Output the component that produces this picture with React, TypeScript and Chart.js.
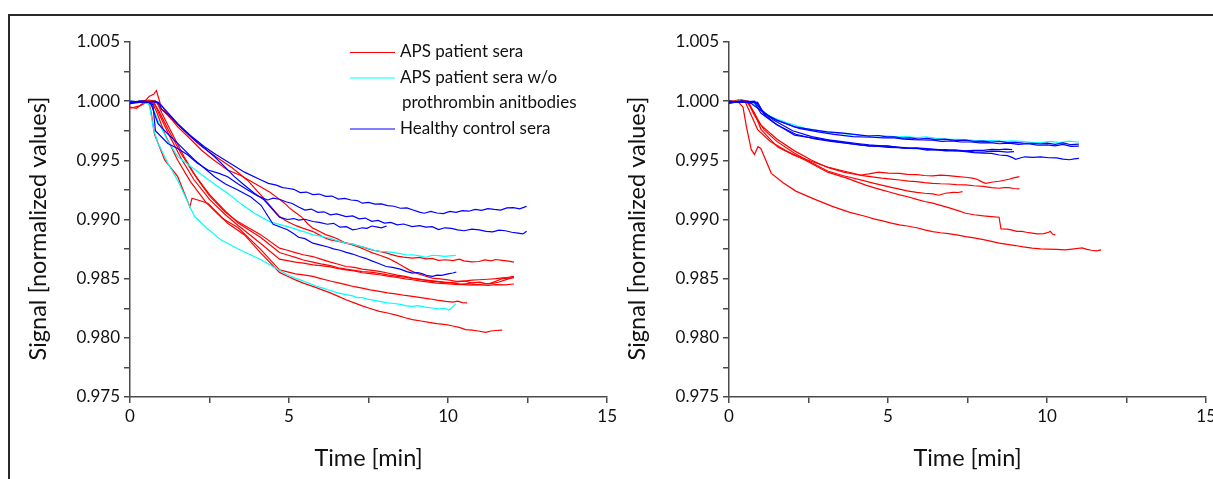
import React, { useEffect, useRef } from 'react';
import { Chart, registerables } from 'chart.js';

Chart.register(...registerables);

type Pt = [number, number];

// ---------- axis ticks ----------
const xMajorTicks = [0, 5, 10, 15];
const yMajorTicks = [0.975, 0.98, 0.985, 0.99, 0.995, 1.0, 1.005];

// ---------- colours ----------
const RED = '#ff0000';
const CYAN = '#00ffff';
const BLUE = '#0000ff';

// ---------- LEFT PANEL ----------
// Healthy control sera
const leftHealthy1: Pt[] = [[0,1.0000],[0.4,0.9999],[0.8,1.0000],[1.0,0.9996],[1.5,0.9981],[1.9,0.9971],[2.34,0.99615],[2.7,0.9955],[3.07,0.99488],[3.6,0.9940],[4.12,0.99334],[4.35,0.99305],[4.6,0.9929],[4.8,0.9927],[4.95,0.99264],[5.15,0.99255],[5.35,0.99228],[5.55,0.99232],[5.75,0.9921],[5.95,0.99215],[6.15,0.99195],[6.35,0.99198],[6.55,0.99172],[6.75,0.99178],[6.95,0.99165],[7.15,0.9916],[7.3,0.99138],[7.5,0.99145],[7.7,0.9913],[7.9,0.99132],[8.1,0.99118],[8.3,0.99112],[8.5,0.99095],[8.7,0.99098],[8.9,0.9908],[9.1,0.99062],[9.25,0.99053],[9.45,0.99068],[9.65,0.99055],[9.85,0.9905],[10.05,0.99068],[10.25,0.9906],[10.45,0.99075],[10.65,0.9907],[10.85,0.99085],[11.05,0.99078],[11.25,0.99092],[11.45,0.99085],[11.65,0.9908],[11.85,0.99098],[12.05,0.991],[12.25,0.9909],[12.4,0.99105],[12.47,0.99112]];
const leftHealthy2: Pt[] = [[0,0.9998],[0.3,0.9999],[0.6,0.9999],[0.72,0.9997],[0.8,0.9975],[1.19,0.99643],[1.5,0.996],[1.82,0.99545],[2.1,0.9948],[2.45,0.99418],[2.8,0.9939],[3.07,0.99362],[3.4,0.993],[3.7,0.9925],[4.0,0.992],[4.33,0.99165],[4.5,0.9918],[4.7,0.99171],[4.9,0.9915],[5.1,0.99135],[5.3,0.99105],[5.5,0.9908],[5.7,0.99088],[5.9,0.9906],[6.1,0.99065],[6.3,0.9904],[6.5,0.99048],[6.79,0.99025],[7.0,0.9903],[7.2,0.99005],[7.4,0.99012],[7.6,0.98985],[7.8,0.98992],[8.0,0.9897],[8.2,0.98975],[8.4,0.98955],[8.6,0.98962],[8.87,0.9894],[9.1,0.98948],[9.3,0.98935],[9.5,0.9894],[9.7,0.98915],[9.9,0.9893],[10.1,0.98925],[10.3,0.98912],[10.5,0.98905],[10.75,0.98918],[10.97,0.98912],[11.2,0.989],[11.4,0.98895],[11.6,0.9891],[11.8,0.98905],[12.0,0.98892],[12.2,0.98885],[12.35,0.98878],[12.47,0.989]];
const leftHealthy3: Pt[] = [[0,0.9999],[0.4,1.0000],[0.9,0.9999],[1.0,0.9993],[1.28,0.99868],[1.6,0.9978],[2.03,0.99671],[2.35,0.996],[2.66,0.9953],[3.0,0.9944],[3.28,0.99362],[3.6,0.9929],[3.91,0.99222],[4.2,0.9917],[4.45,0.99095],[4.7,0.9902],[4.95,0.99],[5.15,0.99008],[5.3,0.98995],[5.5,0.99002],[5.75,0.98983],[5.95,0.98975],[6.2,0.9896],[6.4,0.98968],[6.6,0.98935],[6.8,0.9894],[7.0,0.98913],[7.15,0.9892],[7.3,0.9893],[7.45,0.98925],[7.6,0.98945],[7.75,0.98938],[7.9,0.9893],[8.07,0.98945]];
const leftHealthy4: Pt[] = [[0,0.9998],[0.3,1.0000],[0.6,0.9999],[0.67,0.9997],[0.88,0.9981],[1.2,0.9972],[1.5,0.99643],[2.03,0.99503],[2.66,0.99362],[3.0,0.993],[3.39,0.9925],[3.8,0.9919],[4.12,0.9912],[4.5,0.9896],[4.95,0.98913],[5.15,0.9888],[5.3,0.9885],[5.5,0.98838],[5.75,0.988],[5.96,0.98786],[6.2,0.9877],[6.4,0.98752],[6.6,0.9874],[6.8,0.98722],[7.0,0.98708],[7.21,0.98687],[7.4,0.98672],[7.6,0.9865],[7.8,0.9863],[8.05,0.98603],[8.25,0.98595],[8.5,0.9858],[8.7,0.9856],[8.88,0.98547],[9.05,0.98552],[9.2,0.9854],[9.35,0.98525],[9.51,0.98519],[9.65,0.9853],[9.8,0.98528],[10.0,0.9854],[10.15,0.98548],[10.26,0.98556]];
// APS patient sera w/o prothrombin antibodies
const leftNoPT1: Pt[] = [[0,1.0000],[0.4,0.9999],[0.68,0.9997],[0.9,0.9982],[1.2,0.9966],[1.5,0.99531],[1.9,0.9945],[2.34,0.99362],[2.7,0.9929],[3.07,0.99222],[3.5,0.9913],[3.91,0.99053],[4.4,0.9898],[4.95,0.9894],[5.15,0.98925],[5.3,0.9891],[5.5,0.98895],[5.75,0.9887],[5.95,0.98862],[6.15,0.9885],[6.3,0.9884],[6.5,0.98822],[6.79,0.988],[7.0,0.98792],[7.15,0.98778],[7.3,0.9877],[7.5,0.98755],[7.65,0.98742],[7.84,0.9873],[8.05,0.98728],[8.3,0.9872],[8.5,0.98712],[8.7,0.987],[8.88,0.98702],[9.1,0.98692],[9.3,0.9868],[9.5,0.98698],[9.7,0.98695],[9.9,0.98688],[10.05,0.98692],[10.24,0.98697]];
const leftNoPT2: Pt[] = [[0,0.9999],[0.3,1.0000],[0.55,0.9999],[0.62,0.9995],[0.75,0.9975],[0.88,0.99646],[1.19,0.99475],[1.5,0.9933],[2.03,0.99025],[2.4,0.9893],[2.86,0.98828],[3.4,0.9875],[4.12,0.9866],[4.5,0.986],[4.95,0.98533],[5.15,0.9851],[5.35,0.9849],[5.55,0.9847],[5.75,0.98449],[5.95,0.98428],[6.1,0.98418],[6.3,0.984],[6.5,0.98382],[6.79,0.98365],[7.0,0.98355],[7.15,0.9834],[7.3,0.9834],[7.5,0.98325],[7.65,0.98318],[7.84,0.98308],[8.05,0.98298],[8.3,0.9829],[8.5,0.98282],[8.7,0.9827],[8.88,0.98266],[9.05,0.98272],[9.3,0.9826],[9.5,0.98252],[9.72,0.98244],[9.9,0.9825],[10.03,0.98235],[10.15,0.98262],[10.24,0.98289]];
// APS patient sera
const leftAps1: Pt[] = [[0,0.9995],[0.2,0.9994],[0.4,0.9998],[0.6,1.0004],[0.75,1.0006],[0.83,1.0009],[0.95,0.9998],[1.2,0.9988],[1.5,0.99783],[1.9,0.9968],[2.24,0.99587],[2.6,0.9951],[3.07,0.99418],[3.5,0.9937],[3.91,0.99306],[4.4,0.9923],[4.7,0.9917],[4.85,0.9914],[5.0,0.991],[5.2,0.9906],[5.4,0.9902],[5.6,0.9896],[5.75,0.98927],[5.95,0.989],[6.15,0.98872],[6.3,0.9886],[6.5,0.9884],[6.79,0.988],[7.0,0.98792],[7.15,0.98778],[7.3,0.9877],[7.5,0.98752],[7.65,0.9874],[7.84,0.9873],[8.05,0.98718],[8.2,0.98705],[8.4,0.9869],[8.6,0.98682],[8.88,0.98674],[9.1,0.9868],[9.3,0.98668],[9.5,0.98672],[9.7,0.98655],[9.93,0.9866],[10.15,0.98652],[10.35,0.98665],[10.5,0.9865],[10.75,0.98642],[10.97,0.98645],[11.15,0.98658],[11.35,0.9865],[11.5,0.98662],[11.7,0.98655],[11.9,0.98648],[12.07,0.9864]];
const leftAps2: Pt[] = [[0,0.9998],[0.3,1.0000],[0.6,1.0001],[0.8,1.0000],[1.0,0.9993],[1.3,0.9985],[1.7,0.9975],[2.2,0.9963],[2.7,0.9953],[3.2,0.9944],[3.7,0.9933],[4.2,0.9918],[4.7,0.99025],[4.9,0.9899],[5.2,0.9895],[5.45,0.98925],[5.75,0.98898],[5.95,0.9887],[6.15,0.98842],[6.3,0.98828],[6.55,0.98815],[6.8,0.988],[7.0,0.98785],[7.2,0.98767],[7.4,0.98745],[7.6,0.9872],[7.85,0.98698],[8.1,0.98674],[8.35,0.9864],[8.6,0.986],[8.8,0.9857],[9.0,0.98547],[9.25,0.98525],[9.5,0.98505],[9.75,0.98498],[10.0,0.9849],[10.25,0.98478],[10.5,0.9848],[10.75,0.98465],[11.0,0.9847],[11.15,0.9846],[11.3,0.98458],[11.5,0.98478],[11.7,0.985],[11.9,0.98505],[12.07,0.9851]];
const leftAps3: Pt[] = [[0,0.9994],[0.3,0.9996],[0.6,1.0000],[0.85,0.9999],[1.0,0.999],[1.3,0.9974],[1.7,0.9953],[2.1,0.9935],[2.5,0.992],[3.0,0.9906],[3.4,0.9898],[4.12,0.9887],[4.7,0.98758],[4.95,0.9874],[5.2,0.9872],[5.45,0.98702],[5.75,0.98687],[6.0,0.98665],[6.3,0.9864],[6.55,0.98622],[6.79,0.98603],[7.05,0.98595],[7.3,0.9858],[7.55,0.98572],[7.84,0.98561],[8.1,0.98548],[8.4,0.9853],[8.65,0.9852],[8.88,0.98505],[9.15,0.98495],[9.4,0.9848],[9.65,0.98475],[9.93,0.98463],[10.2,0.9847],[10.5,0.9848],[10.75,0.98488],[10.97,0.98491],[11.25,0.98495],[11.5,0.985],[11.8,0.98508],[12.07,0.98519]];
const leftAps4: Pt[] = [[0,0.9999],[0.4,1.0000],[0.7,1.0000],[0.9,0.9992],[1.2,0.9976],[1.6,0.9956],[2.0,0.9939],[2.5,0.9921],[3.0,0.9907],[3.4,0.9897],[4.1,0.9885],[4.7,0.98721],[4.95,0.987],[5.2,0.9868],[5.45,0.98658],[5.75,0.9864],[6.0,0.98625],[6.3,0.9861],[6.55,0.98592],[6.8,0.9858],[7.05,0.9857],[7.3,0.9856],[7.55,0.98555],[7.84,0.98545],[8.1,0.98532],[8.4,0.9852],[8.65,0.98512],[8.9,0.985],[9.15,0.98492],[9.4,0.98485],[9.65,0.98478],[9.9,0.9847],[10.15,0.98462],[10.4,0.98455],[10.65,0.98458],[10.9,0.9845],[11.15,0.98455],[11.4,0.9846],[11.6,0.98472],[11.8,0.9849],[11.95,0.98502],[12.07,0.9851]];
const leftAps5: Pt[] = [[0,0.9999],[0.4,0.9999],[0.75,1.0000],[0.9,0.999],[1.2,0.9973],[1.6,0.9952],[2.0,0.9934],[2.5,0.9917],[3.0,0.9904],[3.4,0.9895],[4.1,0.988],[4.7,0.98665],[4.95,0.98652],[5.2,0.9864],[5.45,0.98632],[5.75,0.98617],[6.0,0.9861],[6.3,0.986],[6.55,0.98585],[6.79,0.98575],[7.05,0.98565],[7.3,0.9855],[7.55,0.98542],[7.84,0.98533],[8.1,0.98522],[8.4,0.9851],[8.65,0.98498],[8.88,0.98491],[9.15,0.9848],[9.4,0.9847],[9.65,0.98462],[9.93,0.98457],[10.2,0.98452],[10.5,0.9845],[10.75,0.98445],[10.97,0.98449],[11.25,0.98444],[11.5,0.9845],[11.8,0.98448],[12.07,0.98455]];
const leftAps6: Pt[] = [[0,1.0000],[0.4,0.9999],[0.7,0.9999],[0.85,0.999],[1.1,0.9972],[1.5,0.995],[1.9,0.9932],[2.4,0.9914],[2.9,0.9901],[3.4,0.9893],[4.1,0.9875],[4.7,0.98575],[4.95,0.98558],[5.2,0.9854],[5.45,0.98532],[5.75,0.98519],[6.0,0.985],[6.3,0.9848],[6.55,0.98465],[6.79,0.98449],[7.05,0.98432],[7.3,0.9842],[7.55,0.98405],[7.84,0.98392],[8.1,0.9838],[8.4,0.9837],[8.65,0.98358],[8.88,0.9835],[9.15,0.9834],[9.4,0.9833],[9.65,0.98318],[9.93,0.98308],[10.15,0.98302],[10.3,0.9831],[10.45,0.98298],[10.6,0.98295]];
const leftAps7: Pt[] = [[0,0.9999],[0.3,1.0000],[0.6,0.9999],[0.67,0.999],[0.77,0.9972],[1.09,0.99503],[1.5,0.99362],[1.88,0.99109],[1.95,0.9918],[2.45,0.99137],[3.07,0.98969],[3.6,0.9887],[4.1,0.9872],[4.7,0.98553],[4.95,0.9852],[5.2,0.9849],[5.45,0.98462],[5.75,0.98435],[6.0,0.9841],[6.3,0.9838],[6.55,0.9835],[6.79,0.98322],[7.05,0.98295],[7.3,0.9827],[7.55,0.98248],[7.84,0.98224],[8.1,0.9821],[8.4,0.9819],[8.65,0.9817],[8.88,0.98154],[9.15,0.98142],[9.4,0.9813],[9.65,0.9812],[9.93,0.98112],[10.15,0.981],[10.35,0.98088],[10.55,0.9807],[10.75,0.98065],[10.95,0.98058],[11.18,0.98047],[11.35,0.98058],[11.5,0.98062],[11.7,0.98065]];

// ---------- RIGHT PANEL ----------
const rightHealthy1: Pt[] = [[0,1.0000],[0.3,0.9999],[0.6,1.0000],[0.9,0.9998],[1.1,0.999],[1.5,0.9984],[2.06,0.99783],[2.6,0.9976],[3.1,0.99741],[3.6,0.9973],[4.14,0.99713],[4.4,0.99705],[4.7,0.9971],[4.95,0.99698],[5.19,0.99699],[5.45,0.99688],[5.7,0.9969],[5.95,0.9968],[6.23,0.99685],[6.5,0.99675],[6.8,0.9968],[7.1,0.99668],[7.44,0.99671],[7.7,0.9966],[8.0,0.99662],[8.25,0.99655],[8.5,0.9966],[8.75,0.9965],[9.0,0.99652],[9.25,0.99645],[9.53,0.99643],[9.8,0.9964],[10.0,0.99645],[10.25,0.99635],[10.5,0.99648],[10.75,0.99632],[11.0,0.99637]];
const rightHealthy2: Pt[] = [[0,0.9999],[0.4,1.0000],[0.7,0.9998],[1.0,0.9992],[1.3,0.9986],[1.7,0.9982],[2.2,0.9977],[2.8,0.9974],[3.3,0.9972],[3.9,0.997],[4.5,0.99695],[4.85,0.9969],[5.2,0.9969],[5.5,0.9968],[5.8,0.99675],[6.1,0.99672],[6.4,0.9967],[6.7,0.9966],[7.0,0.99665],[7.3,0.99655],[7.6,0.99655],[7.9,0.99648],[8.2,0.9965],[8.5,0.9964],[8.8,0.99645],[9.1,0.99635],[9.4,0.9964],[9.7,0.99628],[10.0,0.9963],[10.25,0.99622],[10.5,0.99635],[10.75,0.99618],[11.0,0.9962]];
const rightHealthy3: Pt[] = [[0,1.0000],[0.4,0.9999],[0.8,0.9999],[1.0,0.999],[1.4,0.9982],[2.06,0.99713],[2.6,0.9969],[3.1,0.99671],[3.6,0.9965],[4.14,0.99629],[4.4,0.99625],[4.7,0.9962],[4.95,0.99622],[5.19,0.99615],[5.45,0.99605],[5.7,0.996],[5.95,0.99598],[6.23,0.99587],[6.5,0.9959],[6.8,0.9958],[7.1,0.99582],[7.44,0.99573],[7.7,0.99565],[8.0,0.9956],[8.25,0.99558],[8.5,0.99545],[8.75,0.9954],[8.9,0.99525],[9.01,0.99508],[9.15,0.9952],[9.3,0.9953],[9.55,0.99525],[9.8,0.9953],[10.05,0.99522],[10.3,0.9952],[10.5,0.9951],[10.7,0.99505],[10.85,0.99512],[11.0,0.99517]];
const rightHealthy4: Pt[] = [[0,0.9998],[0.4,1.0000],[0.9,0.9999],[1.1,0.9989],[1.5,0.998],[2.1,0.9972],[2.7,0.9968],[3.2,0.9966],[3.8,0.9964],[4.1,0.99632],[4.4,0.9962],[4.7,0.99618],[5.0,0.9961],[5.3,0.99608],[5.6,0.996],[5.9,0.99602],[6.2,0.99595],[6.5,0.99588],[6.8,0.9959],[7.1,0.99582],[7.4,0.9958],[7.7,0.99572],[8.0,0.9957],[8.25,0.99578],[8.5,0.99575],[8.75,0.9957],[8.96,0.99573]];
const rightHealthy5: Pt[] = [[0,0.9999],[0.3,0.9999],[0.8,1.0000],[1.0,0.9993],[1.4,0.9984],[2.0,0.9975],[2.6,0.997],[3.2,0.9967],[3.8,0.9965],[4.1,0.9964],[4.4,0.9963],[4.7,0.99625],[5.0,0.9962],[5.3,0.99612],[5.6,0.99605],[5.9,0.99606],[6.2,0.996],[6.5,0.99592],[6.8,0.99585],[7.1,0.99588],[7.4,0.9958],[7.7,0.99585],[8.0,0.99585],[8.25,0.99592],[8.5,0.9959],[8.7,0.99595],[8.9,0.9959]];
const rightNoPT1: Pt[] = [[0,0.9999],[0.3,1.0000],[0.7,0.9999],[1.0,0.9993],[1.3,0.9987],[1.8,0.9982],[2.4,0.9977],[3.0,0.9974],[3.5,0.99727],[4.2,0.9971],[4.6,0.99708],[5.0,0.99705],[5.3,0.99698],[5.6,0.997],[5.9,0.99692],[6.2,0.99699],[6.5,0.99685],[6.8,0.9968],[7.1,0.99678],[7.4,0.99675],[7.7,0.99668],[8.0,0.99665],[8.3,0.99668],[8.6,0.9966],[8.9,0.99665],[9.2,0.9966],[9.5,0.99652],[9.8,0.9965],[10.1,0.9966],[10.4,0.9965],[10.7,0.99662],[11.0,0.99655]];
const rightAps1: Pt[] = [[0,0.9999],[0.3,1.0001],[0.5,1.0000],[0.6,0.9998],[0.8,0.999],[1.01,0.9976],[1.53,0.99612],[2.06,0.99542],[2.6,0.9949],[3.1,0.99444],[3.6,0.9941],[4.14,0.99376],[4.4,0.99385],[4.7,0.994],[5.0,0.99392],[5.36,0.9939],[5.6,0.99382],[5.9,0.9938],[6.15,0.99372],[6.4,0.99368],[6.65,0.99375],[6.9,0.9937],[7.2,0.99362],[7.44,0.99357],[7.65,0.9935],[7.8,0.9934],[7.95,0.99318],[8.07,0.99306],[8.25,0.99315],[8.49,0.99323],[8.65,0.99332],[8.8,0.9934],[8.95,0.99352],[9.13,0.99362]];
const rightAps2: Pt[] = [[0,0.9998],[0.4,1.0001],[0.6,1.0000],[0.75,0.9992],[1.0,0.998],[1.5,0.9968],[2.06,0.9958],[2.6,0.995],[3.1,0.9944],[3.6,0.994],[4.2,0.9937],[4.5,0.9936],[4.8,0.9935],[5.1,0.99342],[5.36,0.99334],[5.65,0.99325],[5.9,0.9932],[6.15,0.99312],[6.4,0.99306],[6.65,0.99302],[6.9,0.993],[7.15,0.99295],[7.44,0.99292],[7.7,0.99285],[8.0,0.9928],[8.25,0.9927],[8.49,0.99264],[8.65,0.9927],[8.8,0.9927],[8.95,0.99262],[9.13,0.99258]];
const rightAps3: Pt[] = [[0,1.0000],[0.4,1.0000],[0.6,0.9999],[0.8,0.9988],[1.1,0.9976],[1.5,0.9966],[2.06,0.9956],[2.6,0.9948],[3.1,0.9941],[3.6,0.9937],[4.2,0.9933],[4.5,0.9931],[4.8,0.9929],[5.1,0.99272],[5.36,0.99256],[5.6,0.99242],[5.9,0.9923],[6.15,0.99222],[6.4,0.99216],[6.6,0.99205],[6.8,0.99222],[7.05,0.9923],[7.2,0.99228],[7.34,0.99236]];
const rightAps4: Pt[] = [[0,0.9999],[0.3,1.0000],[0.5,1.0000],[0.7,0.9988],[0.9,0.9976],[1.3,0.9966],[1.8,0.9958],[2.4,0.995],[3.1,0.994],[3.7,0.9935],[4.3,0.9929],[4.55,0.9927],[4.8,0.9925],[5.1,0.99228],[5.36,0.99208],[5.65,0.9919],[5.9,0.9917],[6.15,0.99152],[6.4,0.99138],[6.65,0.9912],[6.9,0.991],[7.2,0.99075],[7.44,0.99053],[7.7,0.9904],[8.0,0.9903],[8.25,0.99025],[8.49,0.99019],[8.55,0.9892],[8.75,0.98918],[8.9,0.9891],[9.05,0.989],[9.2,0.989],[9.35,0.98892],[9.53,0.98885],[9.7,0.98878],[9.9,0.9888],[10.05,0.98892],[10.1,0.989],[10.18,0.98875],[10.26,0.9887]];
const rightAps5: Pt[] = [[0,1.0000],[0.3,0.9999],[0.44,0.9995],[0.55,0.9978],[0.7,0.9959],[0.8,0.9955],[0.91,0.99615],[1.0,0.996],[1.33,0.9939],[1.7,0.9931],[2.1,0.9924],[2.7,0.9917],[3.27,0.99109],[3.8,0.9906],[4.31,0.99025],[4.55,0.99005],[4.8,0.9899],[5.1,0.9897],[5.36,0.98955],[5.6,0.98945],[5.9,0.9893],[6.15,0.98912],[6.4,0.98898],[6.65,0.98888],[6.9,0.9888],[7.2,0.98868],[7.44,0.98856],[7.7,0.98845],[8.0,0.9883],[8.25,0.98815],[8.49,0.988],[8.75,0.9879],[9.0,0.9878],[9.25,0.98768],[9.53,0.98758],[9.8,0.98752],[10.0,0.9875],[10.3,0.98748],[10.57,0.98744],[10.85,0.98752],[11.1,0.9876],[11.25,0.98748],[11.4,0.9874],[11.55,0.98735],[11.7,0.98744]];

const legendItems = [
  { lines: ['APS patient sera'], color: RED },
  { lines: ['APS patient sera w/o', 'prothrombin anitbodies'], color: CYAN },
  { lines: ['Healthy control sera'], color: BLUE },
];

const leftSeries = [
  { data: leftHealthy1, color: BLUE },
  { data: leftHealthy2, color: BLUE },
  { data: leftHealthy3, color: BLUE },
  { data: leftHealthy4, color: BLUE },
  { data: leftNoPT1, color: CYAN },
  { data: leftNoPT2, color: CYAN },
  { data: leftAps1, color: RED },
  { data: leftAps2, color: RED },
  { data: leftAps3, color: RED },
  { data: leftAps4, color: RED },
  { data: leftAps5, color: RED },
  { data: leftAps6, color: RED },
  { data: leftAps7, color: RED },
];

const rightSeries = [
  { data: rightHealthy1, color: BLUE },
  { data: rightHealthy2, color: BLUE },
  { data: rightHealthy3, color: BLUE },
  { data: rightHealthy4, color: BLUE },
  { data: rightHealthy5, color: BLUE },
  { data: rightNoPT1, color: CYAN },
  { data: rightAps1, color: RED },
  { data: rightAps2, color: RED },
  { data: rightAps3, color: RED },
  { data: rightAps4, color: RED },
  { data: rightAps5, color: RED },
];

const FONT = 'Lato, "Open Sans", sans-serif';
const AXIS = '#4a4a4a';

const legendPlugin = {
  id: 'customLegend',
  afterDraw(chart: any) {
    const ctx = chart.ctx;
    ctx.save();
    ctx.font = `17px ${FONT}`;
    ctx.textBaseline = 'middle';
    ctx.fillStyle = '#111';
    let y = 52;
    legendItems.forEach((item) => {
      ctx.strokeStyle = item.color;
      ctx.lineWidth = 1.2;
      ctx.beginPath();
      ctx.moveTo(350, y + 0.5);
      ctx.lineTo(395, y + 0.5);
      ctx.stroke();
      item.lines.forEach((t, i) => {
        ctx.fillText(t, 400 + (i > 0 ? 2 : 0), y);
        y += 25.5;
      });
    });
    ctx.restore();
  },
};

function makeConfig(series: { data: Pt[]; color: string }[], withLegend: boolean): any {
  return {
    type: 'line',
    data: {
      datasets: series.map((s) => ({
        data: s.data.map(([x, y]) => ({ x, y })),
        borderColor: s.color,
        borderWidth: 1.2,
        pointRadius: 0,
        fill: false,
        tension: 0,
      })),
    },
    options: {
      responsive: false,
      animation: false,
      devicePixelRatio: 1,
      layout: { padding: { left: 0, top: 42, right: 12, bottom: 0 } },
      plugins: { legend: { display: false }, tooltip: { enabled: false } },
      scales: {
        x: {
          type: 'linear',
          min: 0,
          max: 15,
          ticks: {
            stepSize: 2.5,
            autoSkip: false,
            maxRotation: 0,
            padding: 3,
            color: '#111',
            font: { family: FONT, size: 17 },
            callback: (v: number) => (xMajorTicks.includes(v) ? String(v) : ''),
          },
          grid: { drawOnChartArea: false, drawTicks: true, tickLength: 6, color: AXIS, lineWidth: 1.5 },
          border: { display: true, color: AXIS, width: 1.5 },
          title: {
            display: true,
            text: 'Time [min]',
            color: '#111',
            font: { family: FONT, size: 23.5 },
            padding: { top: 0, bottom: 6 },
          },
          afterFit: (s: any) => {
            s.height = 82;
          },
        },
        y: {
          type: 'linear',
          min: 0.975,
          max: 1.005,
          ticks: {
            stepSize: 0.0025,
            autoSkip: false,
            padding: 4,
            color: '#111',
            font: { family: FONT, size: 17 },
            callback: (v: number) => {
              const m = yMajorTicks.find((t) => Math.abs(t - v) < 1e-6);
              return m !== undefined ? m.toFixed(3) : '';
            },
          },
          grid: { drawOnChartArea: false, drawTicks: true, tickLength: 6, color: AXIS, lineWidth: 1.5 },
          border: { display: true, color: AXIS, width: 1.5 },
          title: {
            display: true,
            text: 'Signal [normalized values]   ',
            color: '#111',
            font: { family: FONT, size: 23.5 },
            padding: { top: 24, bottom: 0 },
          },
          afterFit: (s: any) => {
            s.width = 130;
          },
        },
      },
    },
    plugins: withLegend ? [legendPlugin] : [],
  };
}

function Panel({ series, legend, left }: { series: { data: Pt[]; color: string }[]; legend: boolean; left: number }) {
  const ref = useRef<HTMLCanvasElement | null>(null);
  useEffect(() => {
    if (!ref.current) return;
    const chart = new Chart(ref.current, makeConfig(series, legend));
    return () => chart.destroy();
  }, []);
  return (
    <canvas
      ref={ref}
      width={620}
      height={479}
      style={{ position: 'absolute', left, top: 0, width: 620, height: 479 }}
    />
  );
}

export default function App() {
  return (
    <div style={{ position: 'fixed', left: 0, top: 0, width: 1213, height: 479, overflow: 'hidden', background: '#fff' }}>
      <div
        style={{
          position: 'absolute',
          left: 8,
          top: 14,
          width: 1400,
          height: 700,
          border: '2px solid #2a2a2a',
          boxSizing: 'border-box',
        }}
      />
      <Panel series={leftSeries} legend={true} left={0} />
      <Panel series={rightSeries} legend={false} left={599} />
    </div>
  );
}
